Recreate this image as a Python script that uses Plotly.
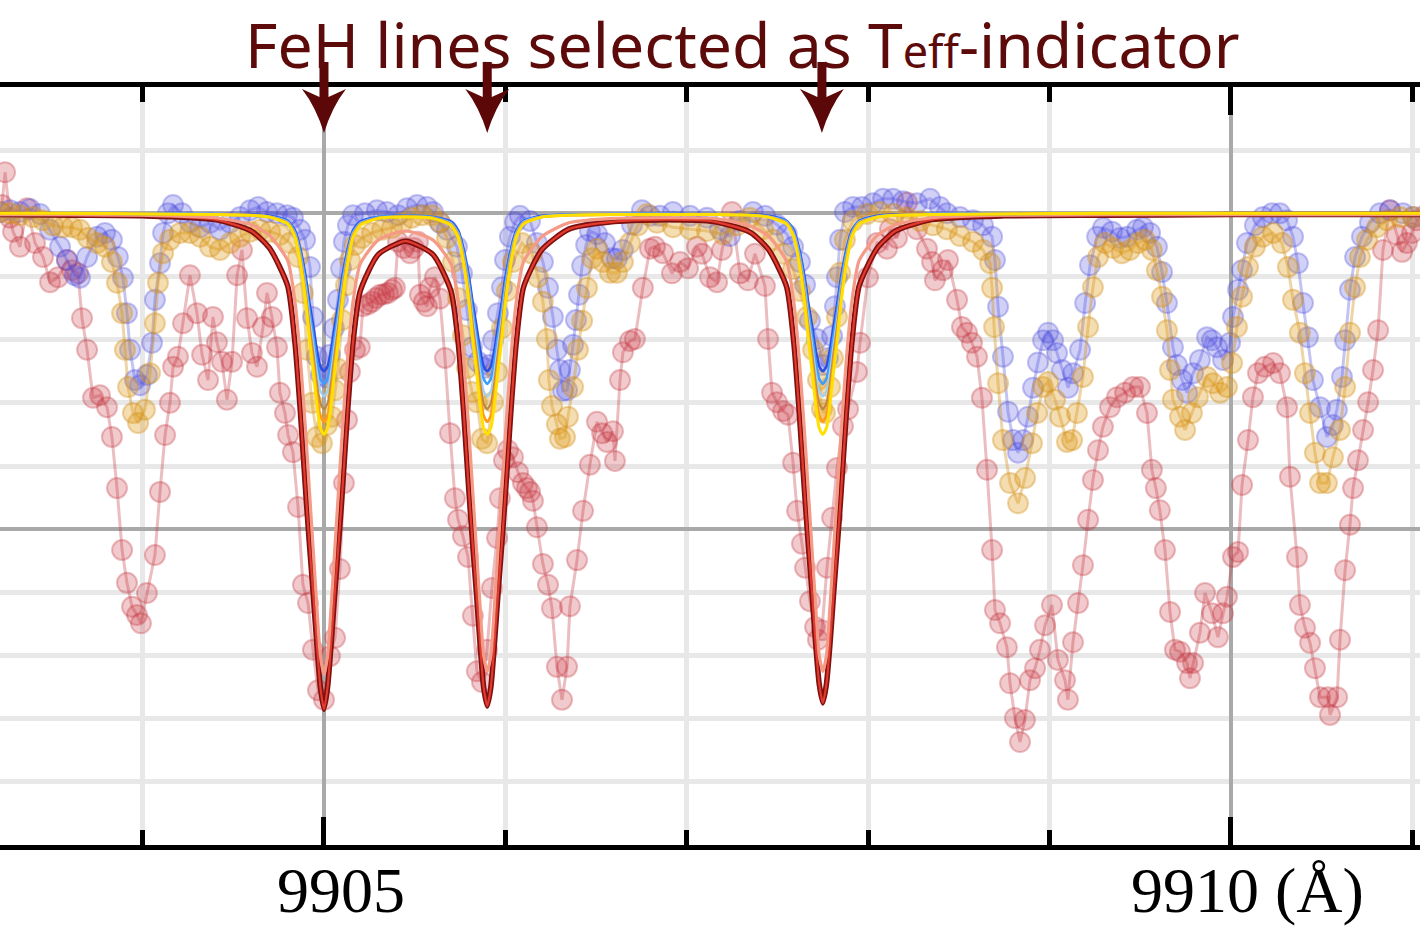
import plotly.graph_objects as go

# ---------------- observed spectra (wavelength in Å, normalised flux) ----------------
red_wl = [9903.225, 9903.242, 9903.269, 9903.286, 9903.324, 9903.363, 9903.407, 9903.451, 9903.490, 9903.534,
          9903.583, 9903.611, 9903.644, 9903.666, 9903.694, 9903.727, 9903.765, 9903.804, 9903.831, 9903.859,
          9903.887, 9903.914, 9903.942, 9903.969, 9903.991, 9904.024, 9904.068, 9904.096, 9904.124, 9904.151,
          9904.168, 9904.195, 9904.223, 9904.261, 9904.300, 9904.328, 9904.361, 9904.388, 9904.410, 9904.438,
          9904.465, 9904.493, 9904.521, 9904.548, 9904.576, 9904.603, 9904.631, 9904.664, 9904.686, 9904.713,
          9904.741, 9904.757, 9904.785, 9904.802, 9904.829, 9904.857, 9904.884, 9904.912, 9904.939, 9904.967,
          9905.000, 9905.033, 9905.061, 9905.088, 9905.110, 9905.127, 9905.143, 9905.171, 9905.198, 9905.215,
          9905.243, 9905.265, 9905.287, 9905.309, 9905.331, 9905.353, 9905.375, 9905.391, 9905.408, 9905.441,
          9905.474, 9905.496, 9905.518, 9905.529, 9905.551, 9905.568, 9905.584, 9905.612, 9905.639, 9905.667,
          9905.695, 9905.722, 9905.739, 9905.766, 9905.794, 9905.821, 9905.843, 9905.871, 9905.899, 9905.926,
          9905.954, 9905.970, 9905.992, 9906.014, 9906.042, 9906.070, 9906.097, 9906.119, 9906.136, 9906.152,
          9906.174, 9906.207, 9906.235, 9906.257, 9906.284, 9906.312, 9906.340, 9906.356, 9906.395, 9906.428,
          9906.466, 9906.505, 9906.533, 9906.560, 9906.593, 9906.604, 9906.632, 9906.648, 9906.687, 9906.714,
          9906.758, 9906.797, 9906.825, 9906.869, 9906.918, 9906.963, 9907.007, 9907.056, 9907.084, 9907.128,
          9907.167, 9907.194, 9907.249, 9907.293, 9907.337, 9907.376, 9907.431, 9907.448, 9907.470, 9907.497,
          9907.531, 9907.558, 9907.586, 9907.608, 9907.635, 9907.652, 9907.679, 9907.707, 9907.723, 9907.745,
          9907.773, 9907.801, 9907.828, 9907.861, 9907.889, 9907.938, 9907.955, 9907.999, 9908.049, 9908.104,
          9908.120, 9908.159, 9908.214, 9908.269, 9908.324, 9908.352, 9908.368, 9908.412, 9908.440, 9908.490,
          9908.517, 9908.545, 9908.572, 9908.600, 9908.627, 9908.655, 9908.683, 9908.699, 9908.727, 9908.765,
          9908.782, 9908.809, 9908.837, 9908.864, 9908.892, 9908.920, 9908.947, 9908.975, 9909.013, 9909.046,
          9909.085, 9909.101, 9909.129, 9909.157, 9909.184, 9909.212, 9909.239, 9909.267, 9909.294, 9909.333,
          9909.372, 9909.416, 9909.460, 9909.498, 9909.537, 9909.564, 9909.586, 9909.608, 9909.636, 9909.664,
          9909.691, 9909.719, 9909.758, 9909.774, 9909.791, 9909.829, 9909.857, 9909.895, 9909.928, 9909.956,
          9909.978, 9910.011, 9910.039, 9910.061, 9910.094, 9910.121, 9910.149, 9910.187, 9910.232, 9910.270,
          9910.309, 9910.325, 9910.364, 9910.380, 9910.408, 9910.436, 9910.463, 9910.491, 9910.535, 9910.546,
          9910.585, 9910.601, 9910.629, 9910.656, 9910.673, 9910.700, 9910.728, 9910.756, 9910.783, 9910.811,
          9910.838, 9910.877, 9910.915, 9910.943, 9910.970, 9910.998, 9911.025, 9911.069]
red_flux = [1.013, 1.065, 0.993, 0.971, 0.947, 1.008, 0.953, 0.931, 0.891, 0.899,
            0.926, 0.910, 0.905, 0.834, 0.784, 0.708, 0.712, 0.693, 0.646, 0.565,
            0.467, 0.415, 0.377, 0.364, 0.351, 0.399, 0.459, 0.559, 0.649, 0.700,
            0.757, 0.773, 0.826, 0.902, 0.842, 0.776, 0.736, 0.836, 0.796, 0.765,
            0.705, 0.765, 0.902, 0.942, 0.834, 0.779, 0.757, 0.820, 0.874, 0.836,
            0.788, 0.716, 0.684, 0.649, 0.622, 0.535, 0.412, 0.383, 0.309, 0.245,
            0.230, 0.299, 0.328, 0.437, 0.573, 0.673, 0.749, 0.784, 0.788, 0.853,
            0.856, 0.860, 0.866, 0.871, 0.872, 0.874, 0.879, 0.882, 0.955, 0.945,
            0.937, 0.945, 0.955, 0.871, 0.860, 0.853, 0.882, 0.899, 0.865, 0.771,
            0.652, 0.549, 0.515, 0.489, 0.456, 0.363, 0.275, 0.258, 0.309, 0.407,
            0.486, 0.549, 0.609, 0.625, 0.614, 0.590, 0.573, 0.565, 0.559, 0.545,
            0.503, 0.445, 0.412, 0.375, 0.282, 0.230, 0.282, 0.378, 0.451, 0.529,
            0.602, 0.670, 0.652, 0.638, 0.655, 0.608, 0.736, 0.780, 0.798, 0.801,
            0.882, 0.944, 0.947, 0.937, 0.905, 0.923, 0.913, 0.947, 0.936, 0.899,
            0.891, 0.942, 1.002, 0.905, 0.894, 0.936, 0.885, 0.801, 0.716, 0.701,
            0.687, 0.681, 0.605, 0.529, 0.477, 0.439, 0.386, 0.345, 0.325, 0.340,
            0.439, 0.518, 0.597, 0.663, 0.690, 0.749, 0.795, 0.899, 0.953, 0.944,
            0.975, 0.961, 1.017, 0.975, 0.944, 0.923, 0.894, 0.910, 0.926, 0.863,
            0.820, 0.811, 0.795, 0.773, 0.708, 0.594, 0.467, 0.372, 0.351, 0.313,
            0.256, 0.201, 0.163, 0.198, 0.261, 0.280, 0.309, 0.348, 0.380, 0.293,
            0.261, 0.230, 0.321, 0.383, 0.443, 0.515, 0.578, 0.625, 0.662, 0.693,
            0.709, 0.716, 0.725, 0.725, 0.684, 0.594, 0.565, 0.530, 0.467, 0.369,
            0.309, 0.306, 0.288, 0.264, 0.288, 0.336, 0.399, 0.367, 0.329, 0.367,
            0.393, 0.456, 0.464, 0.570, 0.641, 0.709, 0.747, 0.757, 0.763, 0.747,
            0.693, 0.583, 0.456, 0.380, 0.344, 0.320, 0.280, 0.234, 0.234, 0.206,
            0.234, 0.325, 0.435, 0.507, 0.565, 0.609, 0.657, 0.701, 0.752, 0.815,
            0.942, 1.005, 0.966, 0.939, 0.953, 0.969, 0.989, 0.997]

blue_wl = [9903.214, 9903.269, 9903.324, 9903.379, 9903.435, 9903.490, 9903.545, 9903.583, 9903.627, 9903.655,
           9903.694, 9903.749, 9903.793, 9903.831, 9903.864, 9903.892, 9903.914, 9903.931, 9903.958, 9903.986,
           9904.024, 9904.052, 9904.068, 9904.096, 9904.113, 9904.140, 9904.168, 9904.217, 9904.261, 9904.317,
           9904.372, 9904.427, 9904.482, 9904.537, 9904.593, 9904.637, 9904.686, 9904.741, 9904.796, 9904.829,
           9904.868, 9904.896, 9904.923, 9904.939, 9904.961, 9904.983, 9905.011, 9905.033, 9905.055, 9905.077,
           9905.094, 9905.110, 9905.132, 9905.160, 9905.226, 9905.292, 9905.347, 9905.408, 9905.458, 9905.513,
           9905.568, 9905.601, 9905.639, 9905.678, 9905.733, 9905.761, 9905.788, 9905.816, 9905.849, 9905.882,
           9905.910, 9905.932, 9905.959, 9905.981, 9905.998, 9906.025, 9906.053, 9906.080, 9906.136, 9906.174,
           9906.207, 9906.235, 9906.262, 9906.284, 9906.301, 9906.317, 9906.340, 9906.356, 9906.373, 9906.389,
           9906.406, 9906.423, 9906.445, 9906.466, 9906.505, 9906.549, 9906.588, 9906.615, 9906.648, 9906.698,
           9906.753, 9906.797, 9906.852, 9906.924, 9907.018, 9907.111, 9907.183, 9907.238, 9907.293, 9907.365,
           9907.431, 9907.497, 9907.552, 9907.586, 9907.624, 9907.652, 9907.679, 9907.718, 9907.751, 9907.778,
           9907.801, 9907.817, 9907.828, 9907.845, 9907.872, 9907.916, 9907.966, 9908.027, 9908.082, 9908.137,
           9908.192, 9908.269, 9908.341, 9908.396, 9908.434, 9908.506, 9908.578, 9908.633, 9908.683, 9908.699,
           9908.716, 9908.743, 9908.771, 9908.799, 9908.826, 9908.854, 9908.881, 9908.909, 9908.936, 9908.964,
           9908.992, 9909.019, 9909.041, 9909.069, 9909.102, 9909.130, 9909.168, 9909.196, 9909.223, 9909.262,
           9909.295, 9909.344, 9909.388, 9909.427, 9909.482, 9909.515, 9909.554, 9909.592, 9909.620, 9909.647,
           9909.680, 9909.702, 9909.730, 9909.758, 9909.791, 9909.829, 9909.868, 9909.895, 9909.923, 9909.956,
           9909.995, 9910.011, 9910.039, 9910.061, 9910.088, 9910.132, 9910.176, 9910.226, 9910.270, 9910.309,
           9910.342, 9910.369, 9910.397, 9910.424, 9910.452, 9910.491, 9910.529, 9910.562, 9910.584, 9910.612,
           9910.629, 9910.656, 9910.684, 9910.722, 9910.766, 9910.821, 9910.876, 9910.948, 9911.004]
blue_flux = [1.002, 1.005, 1.002, 1.007, 0.999, 0.974, 0.947, 0.926, 0.902, 0.898,
             0.931, 0.963, 0.969, 0.958, 0.931, 0.898, 0.842, 0.784, 0.736, 0.728,
             0.744, 0.795, 0.863, 0.921, 0.969, 1.000, 1.013, 1.000, 0.986, 0.978,
             0.985, 0.974, 0.985, 0.994, 1.005, 1.010, 1.002, 1.000, 0.997, 0.993,
             0.974, 0.958, 0.915, 0.836, 0.773, 0.744, 0.740, 0.776, 0.818, 0.863,
             0.913, 0.955, 0.981, 0.997, 1.000, 1.005, 1.002, 0.997, 1.008, 1.013,
             1.010, 1.002, 0.985, 0.974, 0.947, 0.905, 0.847, 0.788, 0.765, 0.755,
             0.760, 0.799, 0.842, 0.883, 0.926, 0.963, 0.986, 0.996, 0.988, 0.953,
             0.923, 0.882, 0.836, 0.784, 0.752, 0.719, 0.720, 0.752, 0.792, 0.831,
             0.871, 0.917, 0.950, 0.972, 0.967, 0.953, 0.929, 0.928, 0.942, 0.982,
             1.005, 0.996, 0.996, 1.002, 0.996, 0.993, 0.975, 0.964, 0.988, 1.002,
             0.996, 0.982, 0.967, 0.947, 0.923, 0.887, 0.830, 0.801, 0.760, 0.771,
             0.806, 0.853, 0.899, 0.958, 1.002, 1.010, 1.010, 1.016, 1.023, 1.023,
             1.019, 1.016, 1.023, 1.010, 1.000, 0.994, 0.989, 0.981, 0.963, 0.926,
             0.852, 0.773, 0.686, 0.641, 0.621, 0.641, 0.678, 0.724, 0.764, 0.799,
             0.811, 0.799, 0.779, 0.752, 0.724, 0.747, 0.784, 0.858, 0.918, 0.963,
             0.977, 0.971, 0.961, 0.963, 0.974, 0.978, 0.969, 0.947, 0.907, 0.858,
             0.788, 0.760, 0.736, 0.716, 0.747, 0.768, 0.804, 0.799, 0.788, 0.768,
             0.795, 0.836, 0.879, 0.910, 0.953, 0.981, 0.994, 1.000, 1.000, 0.989,
             0.963, 0.921, 0.858, 0.804, 0.736, 0.693, 0.646, 0.665, 0.689, 0.741,
             0.799, 0.879, 0.931, 0.963, 0.985, 1.000, 1.005, 1.000, 0.994]

orange_wl = [9903.214, 9903.269, 9903.324, 9903.396, 9903.451, 9903.506, 9903.561, 9903.611, 9903.655, 9903.699,
             9903.749, 9903.793, 9903.831, 9903.859, 9903.887, 9903.903, 9903.920, 9903.947, 9903.975, 9904.013,
             9904.041, 9904.068, 9904.085, 9904.113, 9904.151, 9904.206, 9904.261, 9904.317, 9904.372, 9904.427,
             9904.482, 9904.537, 9904.593, 9904.648, 9904.703, 9904.757, 9904.812, 9904.857, 9904.884, 9904.906,
             9904.934, 9904.961, 9904.989, 9905.017, 9905.044, 9905.061, 9905.077, 9905.099, 9905.121, 9905.143,
             9905.171, 9905.209, 9905.265, 9905.320, 9905.375, 9905.430, 9905.485, 9905.540, 9905.595, 9905.639,
             9905.678, 9905.711, 9905.739, 9905.766, 9905.788, 9905.816, 9905.843, 9905.871, 9905.899, 9905.932,
             9905.954, 9905.981, 9906.009, 9906.042, 9906.091, 9906.147, 9906.180, 9906.207, 9906.229, 9906.240,
             9906.257, 9906.284, 9906.301, 9906.329, 9906.345, 9906.373, 9906.400, 9906.423, 9906.450, 9906.478,
             9906.505, 9906.538, 9906.577, 9906.615, 9906.648, 9906.687, 9906.731, 9906.781, 9906.836, 9906.924,
             9907.018, 9907.111, 9907.199, 9907.277, 9907.348, 9907.420, 9907.475, 9907.530, 9907.586, 9907.624,
             9907.663, 9907.696, 9907.723, 9907.745, 9907.762, 9907.790, 9907.806, 9907.828, 9907.845, 9907.872,
             9907.916, 9907.993, 9908.065, 9908.137, 9908.214, 9908.286, 9908.357, 9908.434, 9908.506, 9908.578,
             9908.633, 9908.672, 9908.683, 9908.694, 9908.716, 9908.743, 9908.782, 9908.826, 9908.865, 9908.903,
             9908.931, 9908.964, 9908.992, 9909.030, 9909.058, 9909.096, 9909.124, 9909.151, 9909.184, 9909.212,
             9909.239, 9909.267, 9909.306, 9909.350, 9909.399, 9909.443, 9909.487, 9909.526, 9909.564, 9909.592,
             9909.620, 9909.647, 9909.664, 9909.680, 9909.719, 9909.747, 9909.785, 9909.818, 9909.868, 9909.901,
             9909.940, 9909.978, 9910.006, 9910.033, 9910.061, 9910.094, 9910.132, 9910.176, 9910.232, 9910.281,
             9910.314, 9910.342, 9910.380, 9910.408, 9910.436, 9910.463, 9910.491, 9910.529, 9910.562, 9910.601,
             9910.629, 9910.656, 9910.684, 9910.711, 9910.750, 9910.805, 9910.860, 9910.932, 9911.004]
orange_flux = [1.002, 1.000, 0.997, 0.994, 0.989, 0.981, 0.978, 0.978, 0.974, 0.961,
               0.953, 0.947, 0.923, 0.890, 0.842, 0.784, 0.725, 0.684, 0.668, 0.689,
               0.747, 0.826, 0.890, 0.937, 0.958, 0.969, 0.969, 0.963, 0.947, 0.942,
               0.953, 0.963, 0.971, 0.974, 0.971, 0.966, 0.953, 0.931, 0.874, 0.784,
               0.700, 0.646, 0.636, 0.665, 0.678, 0.720, 0.754, 0.831, 0.886, 0.926,
               0.950, 0.961, 0.969, 0.974, 0.977, 0.985, 0.993, 0.997, 0.997, 0.986,
               0.961, 0.923, 0.866, 0.807, 0.755, 0.717, 0.701, 0.643, 0.636, 0.701,
               0.749, 0.818, 0.877, 0.923, 0.953, 0.936, 0.899, 0.860, 0.801, 0.736,
               0.695, 0.666, 0.643, 0.646, 0.678, 0.725, 0.784, 0.830, 0.882, 0.929,
               0.944, 0.923, 0.906, 0.906, 0.923, 0.953, 0.981, 0.999, 0.985, 0.978,
               0.975, 0.972, 0.967, 0.981, 0.993, 0.975, 0.958, 0.936, 0.912, 0.877,
               0.836, 0.784, 0.736, 0.690, 0.684, 0.725, 0.771, 0.836, 0.906, 0.958,
               0.988, 0.999, 1.002, 0.999, 0.993, 0.988, 0.981, 0.975, 0.964, 0.955,
               0.942, 0.921, 0.882, 0.820, 0.731, 0.641, 0.573, 0.541, 0.581, 0.636,
               0.684, 0.725, 0.733, 0.705, 0.678, 0.638, 0.641, 0.684, 0.741, 0.820,
               0.883, 0.931, 0.953, 0.945, 0.937, 0.942, 0.953, 0.958, 0.942, 0.910,
               0.868, 0.815, 0.752, 0.705, 0.678, 0.657, 0.684, 0.709, 0.741, 0.731,
               0.716, 0.725, 0.763, 0.820, 0.868, 0.915, 0.947, 0.963, 0.969, 0.953,
               0.915, 0.863, 0.811, 0.747, 0.684, 0.621, 0.573, 0.573, 0.614, 0.657,
               0.725, 0.811, 0.883, 0.931, 0.958, 0.978, 0.989, 0.994, 0.994]

# ---------------- synthetic (model) spectra ----------------
model_wl = [9903.2, 9903.6, 9904.0, 9904.4, 9904.6, 9904.7, 9904.8, 9904.84, 9904.87, 9904.9,
            9904.92, 9904.94, 9904.96, 9904.98, 9905.0, 9905.02, 9905.04, 9905.06, 9905.08, 9905.1,
            9905.13, 9905.16, 9905.2, 9905.3, 9905.45, 9905.6, 9905.7, 9905.74, 9905.77, 9905.8,
            9905.82, 9905.84, 9905.86, 9905.88, 9905.9, 9905.92, 9905.94, 9905.96, 9905.98, 9906.0,
            9906.03, 9906.06, 9906.1, 9906.2, 9906.35, 9906.6, 9906.9, 9907.15, 9907.35, 9907.45,
            9907.55, 9907.59, 9907.62, 9907.65, 9907.67, 9907.69, 9907.71, 9907.73, 9907.75, 9907.77,
            9907.79, 9907.81, 9907.83, 9907.85, 9907.88, 9907.91, 9907.95, 9908.05, 9908.15, 9908.35,
            9908.75, 9909.3, 9910.0, 9910.6, 9911.1]
model_darkred = [0.998, 0.997, 0.996, 0.99, 0.972, 0.945,
                 0.885, 0.795, 0.685, 0.555, 0.475, 0.40, 0.32, 0.25, 0.215, 0.25, 0.32, 0.40, 0.475, 0.555, 0.685, 0.795, 0.877,
                 0.935, 0.956, 0.935,
                 0.877, 0.795, 0.685, 0.555, 0.475, 0.40, 0.32, 0.25, 0.22, 0.25, 0.32, 0.40, 0.475, 0.555, 0.685, 0.795, 0.883,
                 0.942, 0.975, 0.987, 0.99, 0.987, 0.970, 0.943,
                 0.884, 0.795, 0.685, 0.555, 0.475, 0.40, 0.32, 0.255, 0.225, 0.255, 0.32, 0.40, 0.475, 0.555, 0.685, 0.795, 0.885,
                 0.945, 0.972, 0.99, 0.996, 0.997, 0.998, 0.998, 0.998]
model_salmon = [0.998, 0.998, 0.997, 0.993, 0.982, 0.965,
                0.925, 0.86, 0.77, 0.65, 0.56, 0.47, 0.38, 0.30, 0.27, 0.30, 0.38, 0.47, 0.56, 0.65, 0.77, 0.86, 0.92,
                0.958, 0.972, 0.958,
                0.92, 0.86, 0.77, 0.65, 0.56, 0.47, 0.38, 0.30, 0.275, 0.30, 0.38, 0.47, 0.56, 0.65, 0.77, 0.86, 0.923,
                0.963, 0.985, 0.992, 0.993, 0.992, 0.98, 0.964,
                0.924, 0.86, 0.77, 0.65, 0.56, 0.47, 0.38, 0.30, 0.275, 0.30, 0.38, 0.47, 0.56, 0.65, 0.77, 0.86, 0.925,
                0.965, 0.982, 0.993, 0.997, 0.998, 0.998, 0.998, 0.998]
model_blue = [1.0, 1.0, 0.999, 0.999, 0.998, 0.996,
              0.988, 0.973, 0.943, 0.898, 0.858, 0.823, 0.785, 0.758, 0.75, 0.758, 0.785, 0.823, 0.858, 0.898, 0.943, 0.973, 0.987,
              0.994, 0.996, 0.994,
              0.987, 0.973, 0.943, 0.898, 0.858, 0.823, 0.785, 0.758, 0.75, 0.758, 0.785, 0.823, 0.858, 0.898, 0.943, 0.973, 0.988,
              0.996, 0.998, 0.999, 0.999, 0.998, 0.998, 0.996,
              0.988, 0.973, 0.943, 0.898, 0.858, 0.823, 0.785, 0.758, 0.75, 0.758, 0.785, 0.823, 0.858, 0.898, 0.943, 0.973, 0.988,
              0.996, 0.998, 0.999, 0.999, 1.0, 1.0, 1.0, 1.0]
model_azure = [1.0, 1.0, 0.999, 0.999, 0.997, 0.995,
               0.987, 0.970, 0.938, 0.889, 0.846, 0.808, 0.768, 0.738, 0.73, 0.738, 0.768, 0.808, 0.846, 0.889, 0.938, 0.970, 0.985,
               0.994, 0.996, 0.994,
               0.985, 0.970, 0.938, 0.889, 0.846, 0.808, 0.768, 0.738, 0.73, 0.738, 0.768, 0.808, 0.846, 0.889, 0.938, 0.970, 0.987,
               0.995, 0.998, 0.999, 0.999, 0.998, 0.997, 0.995,
               0.987, 0.970, 0.938, 0.889, 0.846, 0.808, 0.768, 0.738, 0.73, 0.738, 0.768, 0.808, 0.846, 0.889, 0.938, 0.970, 0.987,
               0.995, 0.997, 0.999, 0.999, 1.0, 1.0, 1.0, 1.0]
model_lightblue = [1.0, 1.0, 0.999, 0.999, 0.997, 0.995,
                   0.986, 0.968, 0.933, 0.881, 0.835, 0.794, 0.751, 0.719, 0.71, 0.719, 0.751, 0.794, 0.835, 0.881, 0.933, 0.968, 0.984,
                   0.993, 0.995, 0.993,
                   0.984, 0.968, 0.933, 0.881, 0.835, 0.794, 0.751, 0.719, 0.71, 0.719, 0.751, 0.794, 0.835, 0.881, 0.933, 0.968, 0.986,
                   0.995, 0.997, 0.999, 0.999, 0.998, 0.997, 0.995,
                   0.986, 0.968, 0.933, 0.881, 0.835, 0.794, 0.751, 0.719, 0.71, 0.719, 0.751, 0.794, 0.835, 0.881, 0.933, 0.968, 0.986,
                   0.995, 0.997, 0.999, 0.999, 1.0, 1.0, 1.0, 1.0]
model_tan = [1.0, 1.0, 0.999, 0.998, 0.997, 0.994,
             0.985, 0.966, 0.929, 0.873, 0.823, 0.780, 0.733, 0.699, 0.69, 0.699, 0.733, 0.780, 0.823, 0.873, 0.929, 0.966, 0.983,
             0.993, 0.995, 0.993,
             0.983, 0.966, 0.929, 0.873, 0.823, 0.780, 0.733, 0.699, 0.69, 0.699, 0.733, 0.780, 0.823, 0.873, 0.929, 0.966, 0.985,
             0.994, 0.997, 0.998, 0.998, 0.998, 0.997, 0.994,
             0.985, 0.966, 0.929, 0.873, 0.823, 0.780, 0.733, 0.699, 0.69, 0.699, 0.733, 0.780, 0.823, 0.873, 0.929, 0.966, 0.985,
             0.994, 0.997, 0.998, 0.999, 1.0, 1.0, 1.0, 1.0]
model_orange = [1.0, 1.0, 0.999, 0.998, 0.997, 0.994,
                0.984, 0.964, 0.924, 0.865, 0.812, 0.766, 0.716, 0.680, 0.67, 0.680, 0.716, 0.766, 0.812, 0.865, 0.924, 0.964, 0.982,
                0.992, 0.995, 0.992,
                0.982, 0.964, 0.924, 0.865, 0.812, 0.766, 0.716, 0.680, 0.67, 0.680, 0.716, 0.766, 0.812, 0.865, 0.924, 0.964, 0.984,
                0.994, 0.997, 0.998, 0.998, 0.998, 0.997, 0.994,
                0.984, 0.964, 0.924, 0.865, 0.812, 0.766, 0.716, 0.680, 0.67, 0.680, 0.716, 0.766, 0.812, 0.865, 0.924, 0.964, 0.984,
                0.994, 0.997, 0.998, 0.999, 1.0, 1.0, 1.0, 1.0]
model_yellow = [1.0, 1.0, 0.999, 0.998, 0.997, 0.994,
                0.983, 0.962, 0.920, 0.857, 0.800, 0.752, 0.699, 0.660, 0.65, 0.660, 0.699, 0.752, 0.800, 0.857, 0.920, 0.962, 0.981,
                0.992, 0.994, 0.992,
                0.981, 0.962, 0.920, 0.857, 0.800, 0.752, 0.699, 0.660, 0.65, 0.660, 0.699, 0.752, 0.800, 0.857, 0.920, 0.962, 0.983,
                0.994, 0.997, 0.998, 0.998, 0.998, 0.997, 0.994,
                0.983, 0.962, 0.920, 0.857, 0.800, 0.752, 0.699, 0.660, 0.65, 0.660, 0.699, 0.752, 0.800, 0.857, 0.920, 0.962, 0.983,
                0.994, 0.997, 0.998, 0.999, 1.0, 1.0, 1.0, 1.0]

# ---------------- annotations ----------------
feh_lines = [9905.0, 9905.9, 9907.745]
tick_values = [9905, 9910]
tick_labels = ["9905", "9910 (Å)"]
title_text = "FeH lines selected as T<span style='font-size:0.72em'>eff</span>-indicator"

fig = go.Figure()

obs = [
    (red_wl, red_flux, "rgba(205,60,70,0.27)", "rgba(195,55,65,0.33)"),
    (blue_wl, blue_flux, "rgba(85,85,230,0.27)", "rgba(75,75,220,0.33)"),
    (orange_wl, orange_flux, "rgba(222,155,25,0.34)", "rgba(210,145,25,0.38)"),
]
for wl, fl, fill, edge in obs:
    fig.add_trace(go.Scatter(
        x=wl, y=fl, mode="lines+markers",
        line=dict(color=edge, width=3),
        marker=dict(size=20, color=fill, line=dict(color=edge, width=2)),
        hoverinfo="skip", showlegend=False))

models = [
    (model_darkred, "#7d1010", 5.5),
    (model_darkred, "#e23a2c", 2.2),
    (model_salmon, "#f59a86", 3.2),
    (model_blue, "#2f4fe0", 2.6),
    (model_azure, "#3d9cff", 2.6),
    (model_lightblue, "#9fd0f0", 2.2),
    (model_tan, "#b98a45", 2.2),
    (model_orange, "#ff9a1a", 2.6),
    (model_yellow, "#ffe000", 3.0),
]
for fl, col, w in models:
    fig.add_trace(go.Scatter(
        x=model_wl, y=fl, mode="lines",
        line=dict(color=col, width=w, shape="spline", smoothing=0.6),
        hoverinfo="skip", showlegend=False))

annotations = []
for tv, tl in zip(tick_values, tick_labels):
    annotations.append(dict(
        x=tv, y=0, xref="x", yref="paper", text=tl, showarrow=False,
        xanchor="center", yanchor="top", xshift=17, yshift=-8,
        font=dict(family="Liberation Serif, Times New Roman, serif", size=64, color="black")))
annotations.append(dict(
    x=0.523, y=1.058, xref="paper", yref="paper", text=title_text, showarrow=False,
    xanchor="center", yanchor="middle",
    font=dict(family="Noto Sans, sans-serif", size=62.5, color="#5c0a0a")))

shapes = []
arrow_path = "M -4.5,25 L 4.5,25 L 4.5,-10 L 22,-2 Q 8,-20 0,-46 Q -8,-20 -22,-2 L -4.5,-10 Z"
for lw in feh_lines:
    shapes.append(dict(
        type="path", xref="x", yref="paper", xsizemode="pixel", ysizemode="pixel",
        xanchor=lw, yanchor=1, path=arrow_path,
        fillcolor="#5c0808", line=dict(width=0), layer="above"))

fig.update_layout(
    width=1420, height=927,
    margin=dict(l=0, r=0, t=87, b=82),
    paper_bgcolor="white", plot_bgcolor="white",
    annotations=annotations, shapes=shapes,
    xaxis=dict(
        range=[9903.214, 9911.042], tick0=9905, dtick=5,
        showgrid=True, gridcolor="#a9a9a9", gridwidth=4,
        ticks="inside", ticklen=28, tickwidth=5, tickcolor="black",
        showline=True, linecolor="black", linewidth=5, mirror="ticks",
        showticklabels=False, zeroline=False,
        minor=dict(dtick=1, tick0=9905, ticks="inside", ticklen=15, tickwidth=5, tickcolor="black",
                   showgrid=True, gridcolor="#e8e8e8", gridwidth=5),
    ),
    yaxis=dict(
        range=[0, 1.2], tick0=0, dtick=0.5,
        showgrid=True, gridcolor="#a9a9a9", gridwidth=4,
        showline=False, ticks="", showticklabels=False, zeroline=False,
        minor=dict(dtick=0.1, tick0=0, showgrid=True, gridcolor="#e8e8e8", gridwidth=5, ticks=""),
    ),
)

fig.write_html("out.html")
